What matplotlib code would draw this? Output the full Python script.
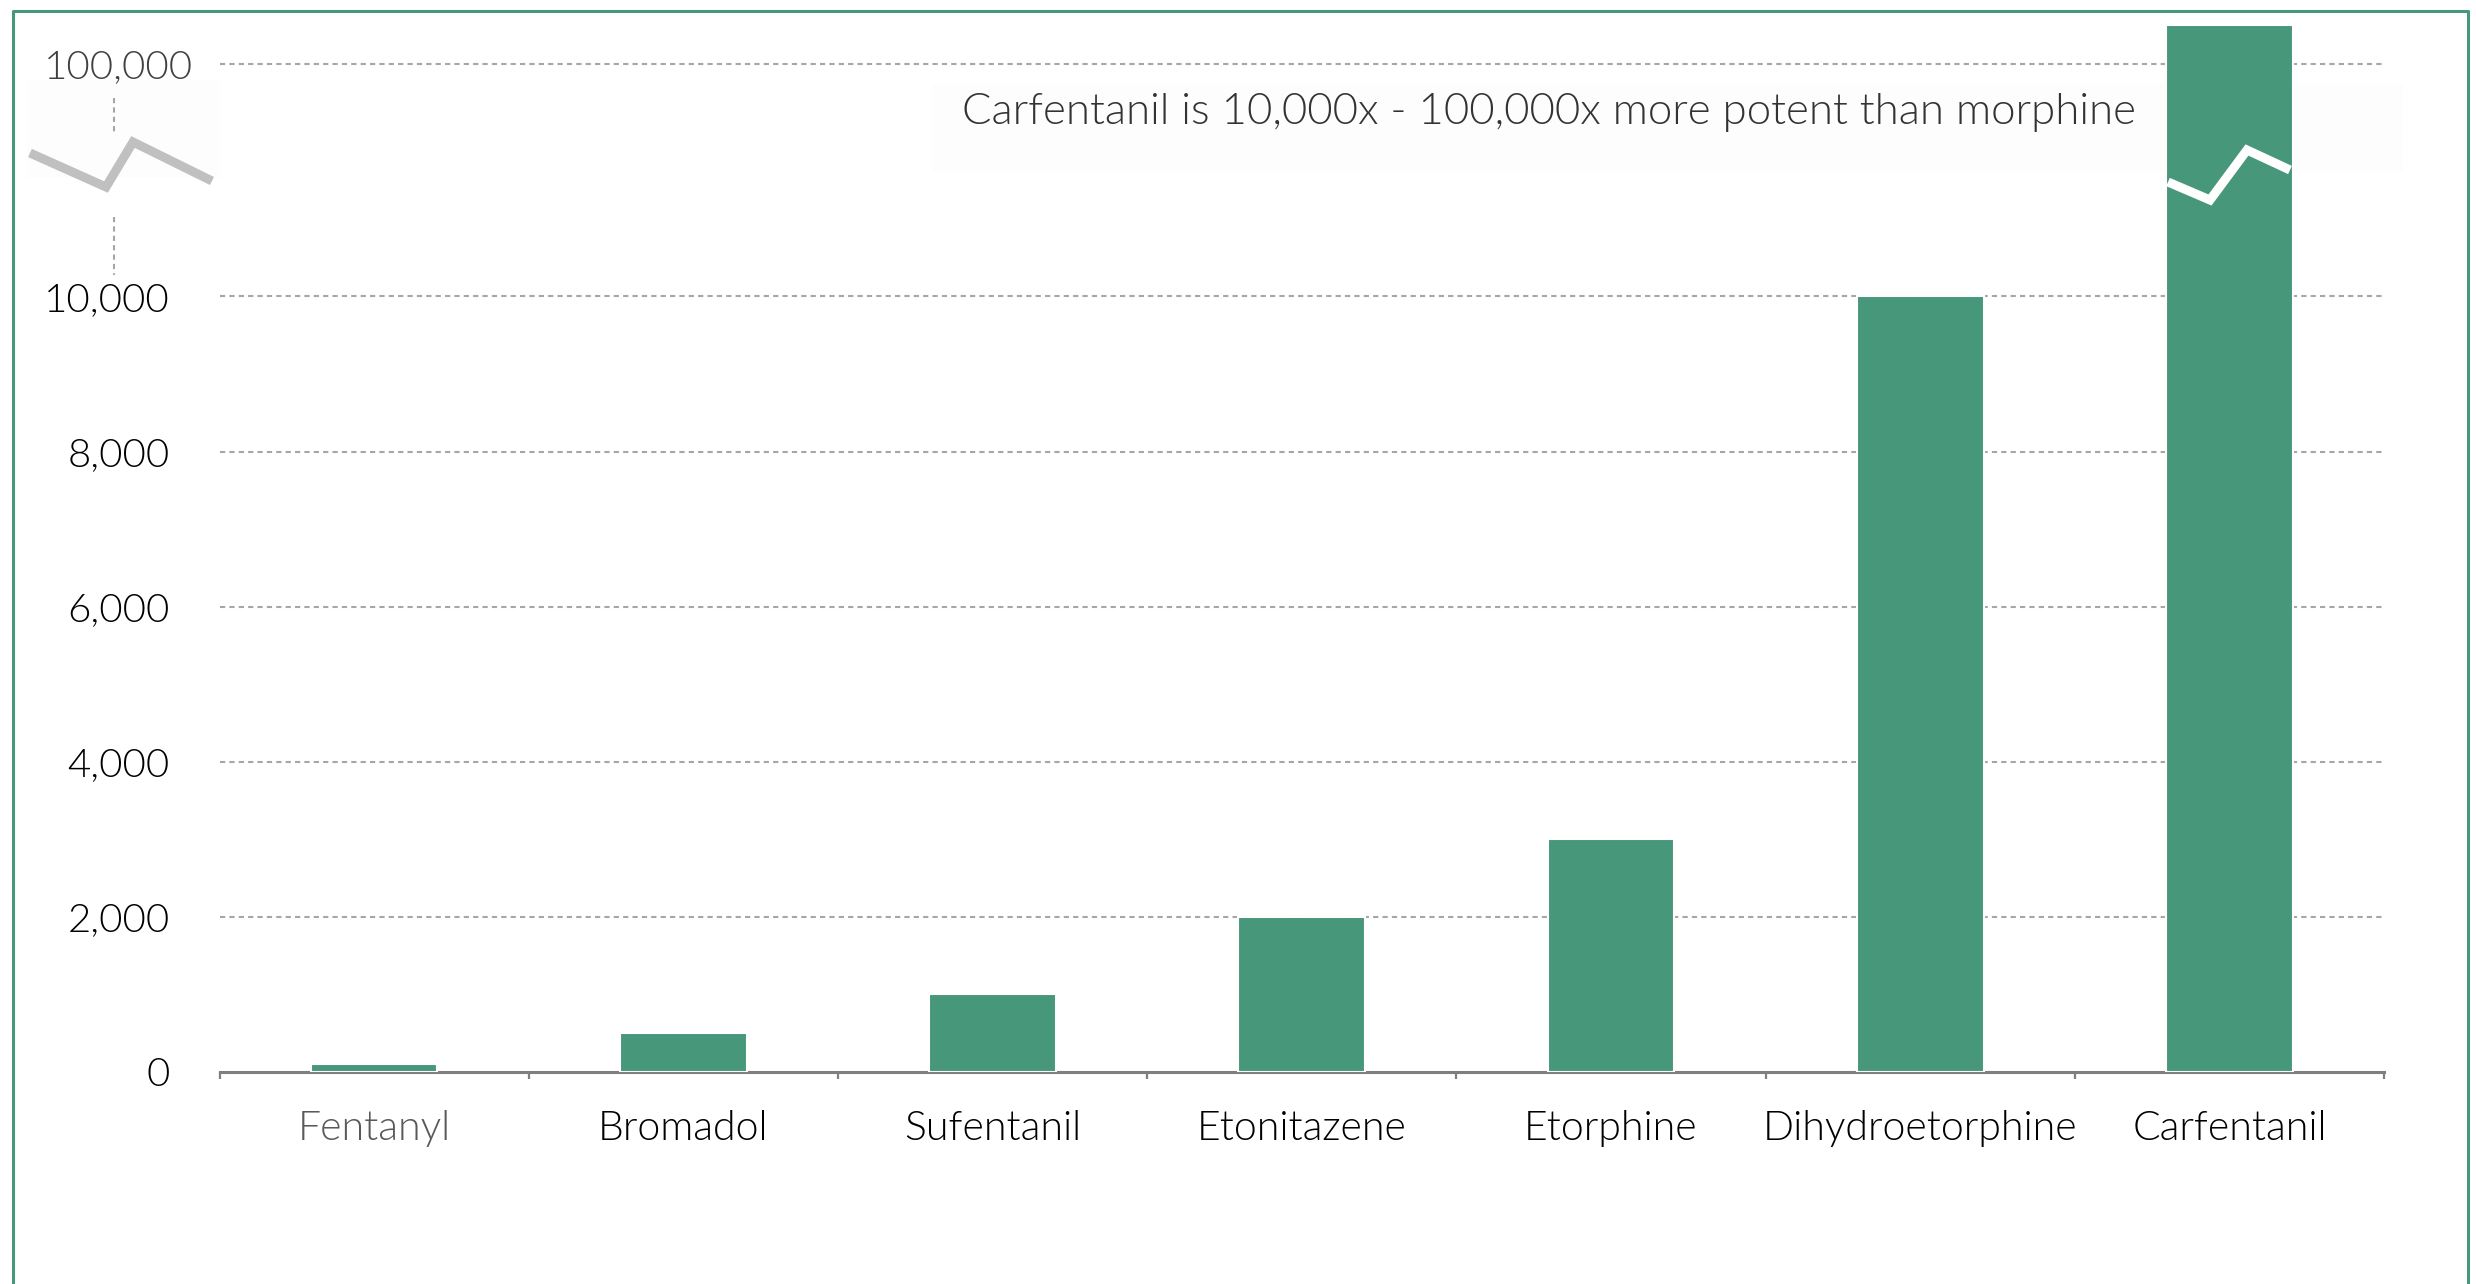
import numpy as np
import matplotlib
matplotlib.use("Agg")
import matplotlib.pyplot as plt
from matplotlib.lines import Line2D
from matplotlib.patches import Rectangle

plt.rcParams['font.family'] = ['Lato', 'DejaVu Sans']
plt.rcParams['font.weight'] = 300

# ---- data -------------------------------------------------------------
drugs = ["Fentanyl", "Bromadol", "Sufentanil", "Etonitazene",
         "Etorphine", "Dihydroetorphine", "Carfentanil"]
potency = [100, 500, 1000, 2000, 3000, 10000, 100000]   # x morphine
y_ticks = [0, 2000, 4000, 6000, 8000, 10000, 100000]
y_tick_labels = ["0", "2,000", "4,000", "6,000", "8,000", "10,000", "100,000"]
note = "Carfentanil is 10,000x - 100,000x more potent than morphine"

GREEN = "#47977b"
W, H = 2476, 1284

# broken axis: linear up to 10,000, compressed (log) segment above it
BREAK = 10000.0
SEG = 3000.0


def fwd(v):
    v = np.asarray(v, dtype=float)
    hi = BREAK + SEG * np.log10(np.maximum(v, BREAK) / BREAK)
    return np.where(v <= BREAK, v, hi)


def inv(t):
    t = np.asarray(t, dtype=float)
    hi = BREAK * 10 ** ((np.clip(t, BREAK, 1e6) - BREAK) / SEG)
    return np.where(t <= BREAK, t, hi)


def px(x, y):
    return x / W, 1 - y / H


fig = plt.figure(figsize=(W / 100, H / 100), dpi=100)
fig.patch.set_facecolor("white")

# faint backing panels for the note and the left break mark
fig.patches.append(Rectangle(px(932, 171), 1471 / W, 87 / H, transform=fig.transFigure,
                             facecolor="#fdfdfd", edgecolor="none", zorder=0))
fig.patches.append(Rectangle(px(28, 178), 192 / W, 98 / H, transform=fig.transFigure,
                             facecolor="#fdfdfd", edgecolor="none", zorder=0))

left, right, bottom, top = 219.5, 2384, 1072, 25
ax = fig.add_axes([left / W, (H - bottom) / H, (right - left) / W, (bottom - top) / H])
ax.set_zorder(1)
ax.set_yscale("function", functions=(fwd, inv))
y_top = float(inv(13500))
ax.set_ylim(0, y_top)
ax.set_xlim(-0.5, len(drugs) - 0.5)

# off-scale bars run to the top of the axes
drawn = [v if v < y_ticks[-1] else y_top for v in potency]
x = np.arange(len(drugs))
ax.bar(x, drawn, width=0.41, color=GREEN, edgecolor="white", linewidth=1.5, zorder=3)

# gridlines
for t in y_ticks[1:]:
    ax.axhline(t, color="#a6a6a6", lw=1.5, ls=(0, (2.5, 2)), zorder=1)

ax.set_yticks(y_ticks, y_tick_labels)
ax.tick_params(axis="y", length=0, labelsize=29, pad=36, labelcolor="#000000")
yt = ax.yaxis.get_major_ticks()
yt[-1].set_pad(19)
yt[-1].label1.set_color("#404040")

ax.set_xticks(x, drugs)
ax.tick_params(axis="x", which="major", length=0, labelsize=29.5, pad=27.5, labelcolor="#000000")
ax.xaxis.get_major_ticks()[0].label1.set_color("#595959")
ax.set_xticks(np.arange(len(drugs) + 1) - 0.5, minor=True)
ax.tick_params(axis="x", which="minor", length=5, width=1.6, color="#7f7f7f", direction="out")

for s in ("left", "right", "top"):
    ax.spines[s].set_visible(False)
ax.spines["bottom"].set_color("#7f7f7f")
ax.spines["bottom"].set_linewidth(2.2)
ax.set_facecolor("none")

# note
fig.text(*px(1549, 112), note, ha="center", va="center", fontsize=31.5,
         color="#333333", zorder=3)

# axis break marks
lx, ly = zip(*[px(30, 153), px(106, 187), px(133, 142), px(212, 181)])
fig.add_artist(Line2D(lx, ly, transform=fig.transFigure, color="#c0c0c0", lw=6.5,
                      solid_joinstyle="miter", solid_capstyle="butt", zorder=2))
for y0, y1 in ((98, 135), (217, 275)):
    xs, ys = zip(px(114, y0), px(114, y1))
    fig.add_artist(Line2D(xs, ys, transform=fig.transFigure, color="#a6a6a6", lw=1.5,
                          ls=(0, (2.5, 2)), zorder=2))
rx, ry = zip(*[px(2168, 182), px(2210, 200), px(2247, 150), px(2290, 170)])
fig.add_artist(Line2D(rx, ry, transform=fig.transFigure, color="white", lw=6.5,
                      solid_joinstyle="miter", solid_capstyle="butt", zorder=5))

# outer frame (open at the bottom)
fx, fy = zip(*[px(13, H + 5), px(13, 11), px(2468, 11), px(2468, H + 5)])
fig.add_artist(Line2D(fx, fy, transform=fig.transFigure, color=GREEN, lw=2.2, zorder=5))

fig.savefig("out.png", dpi=100, facecolor="white")
